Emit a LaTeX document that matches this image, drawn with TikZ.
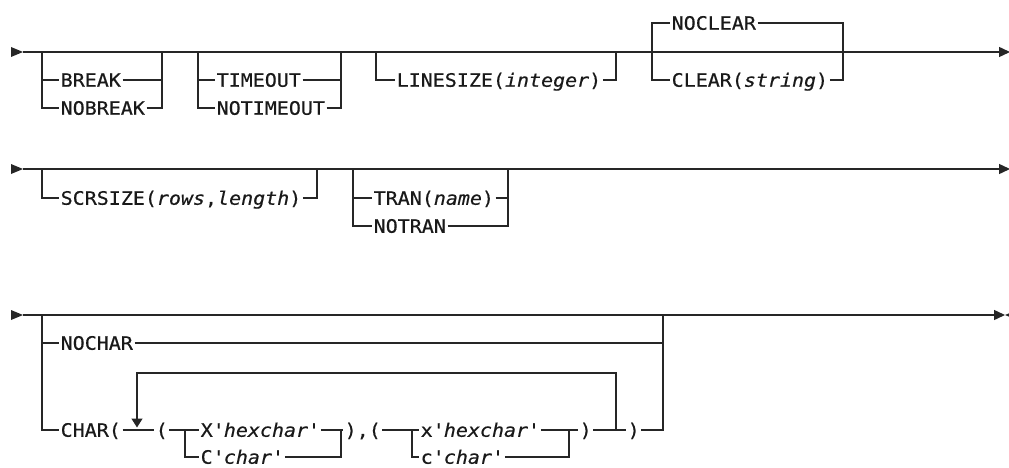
\documentclass[tikz,border=0pt]{standalone}
\usepackage{fontspec}
\newfontfamily\railfont[FakeStretch=1.08,FakeBold=0.5]{DejaVu Sans Mono}
\usetikzlibrary{arrows.meta,positioning}
\newcommand\tck{\textquotesingle}

\tikzset{
  rail/.style={line width=1.4pt, draw=black!85},
  kw/.style={anchor=west, inner xsep=1.5pt, inner ysep=0pt, text height=13.5pt, text depth=0pt,
    text=black!90, font=\railfont\fontsize{18.5}{20}\selectfont},
  startmark/.style={fill=black!85},
  endtip/.style={-{Triangle[length=11pt,width=10pt]}},
  looptip/.style={-{Triangle[length=9pt,width=11pt]}, shorten >=2.5pt},
}

\begin{document}
\begin{tikzpicture}[x=1pt,y=-1pt]
\useasboundingbox (0,0) rectangle (1009,468);

% row 1
\coordinate (s1) at (23,52);
\coordinate (e1) at (1010,52);
\coordinate (a1) at (42,52);   \coordinate (b1) at (162,52);
\coordinate (a2) at (198,52);  \coordinate (b2) at (341,52);
\coordinate (a3) at (376,52);  \coordinate (b3) at (616,52);
\coordinate (a4) at (652,52);  \coordinate (b4) at (843,52);
\fill[startmark] (s1) -- ++(-12,-5) -- ++(0,10) -- cycle;
\draw[rail,endtip] (s1) -- (e1);

\node[kw] (brk) at (59,80) {BREAK};
\node[kw] (nbrk) at (59,108) {NOBREAK};
\draw[rail] (a1) |- (brk.west);
\draw[rail] (a1) |- (nbrk.west);
\draw[rail] (brk.east) -| (b1);
\draw[rail] (nbrk.east) -| (b1);

\node[kw] (tmo) at (215,80) {TIMEOUT};
\node[kw] (ntmo) at (215,108) {NOTIMEOUT};
\draw[rail] (a2) |- (tmo.west);
\draw[rail] (a2) |- (ntmo.west);
\draw[rail] (tmo.east) -| (b2);
\draw[rail] (ntmo.east) -| (b2);

\node[kw] (lsz) at (395,80) {LINESIZE(\textit{integer})};
\draw[rail] (a3) |- (lsz.west);
\draw[rail] (lsz.east) -| (b3);

\node[kw] (ncl) at (670,23) {NOCLEAR};
\node[kw] (clr) at (670,80) {CLEAR(\textit{string})};
\draw[rail] (a4) |- (ncl.west);
\draw[rail] (a4) |- (clr.west);
\draw[rail] (ncl.east) -| (b4);
\draw[rail] (clr.east) -| (b4);

% row 2
\coordinate (s2) at (23,169);
\coordinate (e2) at (1010,169);
\coordinate (a5) at (42,169);  \coordinate (b5) at (317,169);
\coordinate (a6) at (353,169); \coordinate (b6) at (508,169);
\fill[startmark] (s2) -- ++(-12,-5) -- ++(0,10) -- cycle;
\draw[rail,endtip] (s2) -- (e2);

\node[kw] (scr) at (59,198) {SCRSIZE(\textit{rows},\textit{length})};
\draw[rail] (a5) |- (scr.west);
\draw[rail] (scr.east) -| (b5);

\node[kw] (tran) at (372,198) {TRAN(\textit{name})};
\node[kw] (ntran) at (372,226) {NOTRAN};
\draw[rail] (a6) |- (tran.west);
\draw[rail] (a6) |- (ntran.west);
\draw[rail] (tran.east) -| (b6);
\draw[rail] (ntran.east) -| (b6);

% row 3
\coordinate (s3) at (23,315);
\coordinate (e3) at (1005,315);
\coordinate (a7) at (42,315);  \coordinate (b7) at (663,315);
\fill[startmark] (s3) -- ++(-12,-5) -- ++(0,10) -- cycle;
\draw[rail,endtip] (s3) -- (e3);
\fill[startmark] (e3) -- ++(12,-5) -- ++(0,10) -- cycle;

\node[kw] (nochr) at (59,343) {NOCHAR};
\draw[rail] (a7) |- (nochr.west);
\draw[rail] (nochr.east) -| (b7);

\node[kw] (chr) at (59,430) {CHAR(};
\node[kw] (lp1) at (154,430) {(};
\node[kw] (hx1) at (199,430) {X\tck\textit{hexchar}\tck};
\node[kw] (ch1) at (199,457) {C\tck\textit{char}\tck};
\node[kw] (sep) at (343,430) {),(};
\node[kw] (hx2) at (419,430) {x\tck\textit{hexchar}\tck};
\node[kw] (ch2) at (419,457) {c\tck\textit{char}\tck};
\node[kw] (rp1) at (578,430) {)};
\node[kw] (rp2) at (626,430) {)};
\coordinate (a8) at (185,430); \coordinate (b8) at (341,430);
\coordinate (a9) at (412,430); \coordinate (b9) at (569,430);
\coordinate (lpa) at (137,430); \coordinate (lpb) at (616,430);
\coordinate (lptop) at (616,373);

\draw[rail] (a7) |- (chr.west);
\draw[rail] (chr.east) -- (lp1.west);
\draw[rail] (lp1.east) -- (hx1.west);
\draw[rail] (a8) |- (ch1.west);
\draw[rail] (hx1.east) -- (sep.west);
\draw[rail] (ch1.east) -| (b8);
\draw[rail] (sep.east) -- (hx2.west);
\draw[rail] (a9) |- (ch2.west);
\draw[rail] (hx2.east) -- (rp1.west);
\draw[rail] (ch2.east) -| (b9);
\draw[rail] (rp1.east) -- (rp2.west);
\draw[rail] (rp2.east) -| (b7);
\draw[rail,looptip] (lpb) -- (lptop) -| (lpa);
\end{tikzpicture}
\end{document}
